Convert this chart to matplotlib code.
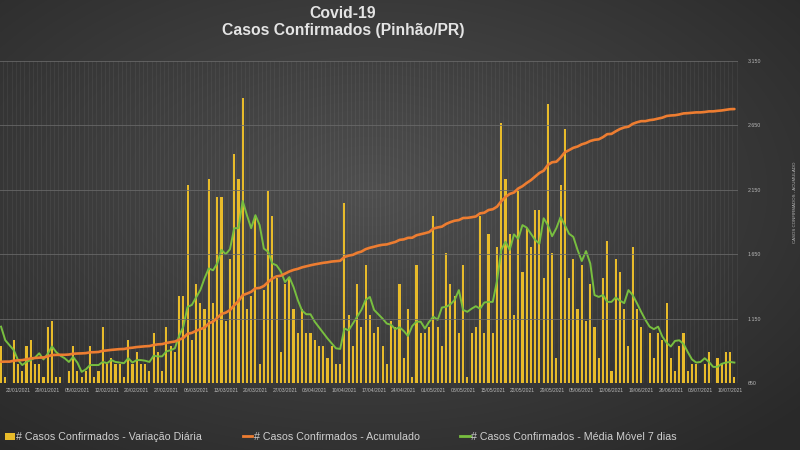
import numpy as np
import matplotlib
matplotlib.use("Agg")
import matplotlib.pyplot as plt
from matplotlib.patches import Patch
from matplotlib.lines import Line2D

# ---------------- data ----------------
first_index = 3  # day index of the first visible bar (index 0 = 15/01/2021)

tick_labels = ["22/01/2021", "29/01/2021", "05/02/2021", "12/02/2021",
               "20/02/2021", "27/02/2021", "06/03/2021", "13/03/2021", "20/03/2021",
               "27/03/2021", "03/04/2021", "10/04/2021", "17/04/2021", "24/04/2021",
               "01/05/2021", "08/05/2021", "15/05/2021", "22/05/2021", "29/05/2021",
               "05/06/2021", "12/06/2021", "19/06/2021", "26/06/2021", "03/07/2021",
               "10/07/2021"]
first_tick_index = 7

daily = [6, 1, 0, 7, 3, 2, 6, 7, 3, 3,
         1, 9, 10, 1, 1, 0, 2, 6, 2, 1,
         2, 6, 1, 2, 9, 3, 4, 3, 3, 1,
         7, 3, 5, 3, 3, 2, 8, 5, 2, 9,
         6, 5, 14, 14, 32, 7, 16, 13, 12, 33,
         13, 30, 30, 10, 20, 37, 33, 46, 12, 14,
         27, 3, 15, 31, 27, 17, 5, 16, 17, 12,
         8, 12, 8, 8, 7, 6, 6, 4, 6, 3,
         3, 29, 11, 6, 16, 9, 19, 11, 8, 9,
         6, 3, 10, 9, 16, 4, 12, 1, 19, 8,
         8, 9, 27, 9, 6, 21, 16, 14, 8, 19,
         1, 8, 9, 27, 8, 24, 8, 22, 42, 33,
         24, 11, 31, 18, 25, 22, 28, 28, 17, 45,
         21, 4, 32, 41, 17, 20, 12, 19, 10, 16,
         9, 4, 17, 23, 2, 20, 18, 12, 6, 22,
         12, 9, 0, 8, 4, 8, 7, 13, 4, 2,
         6, 8, 2, 3, 3, 0, 3, 5, 0, 4,
         3, 5, 5, 1]

moving_avg = [9.1, 6.9, 6.1, 5.3, 3.7, 2.9, 3.4, 3.7, 4.1, 4.8,
              3.8, 4.7, 5.9, 5.0, 4.4, 4.0, 3.4, 4.2, 3.3, 1.8,
              2.2, 2.9, 2.9, 2.9, 3.4, 3.2, 3.7, 3.4, 3.3, 3.2,
              4.0, 3.3, 3.7, 3.7, 3.6, 3.4, 4.4, 4.3, 4.3, 5.1,
              5.3, 5.6, 7.6, 9.1, 12.3, 12.6, 13.8, 15.0, 16.9, 18.5,
              18.2, 19.3, 21.5, 20.8, 21.6, 25.0, 25.0, 29.4, 27.1, 25.0,
              27.1, 25.5, 21.7, 21.2, 19.3, 19.0, 18.0, 16.3, 17.1, 15.5,
              13.4, 11.7, 11.1, 11.1, 9.9, 9.0, 8.1, 7.2, 6.4, 5.6,
              5.5, 8.8, 8.5, 9.6, 10.7, 11.8, 13.4, 13.9, 11.8, 11.1,
              10.4, 9.6, 9.4, 8.7, 9.0, 8.4, 7.6, 9.2, 9.9, 9.9,
              8.8, 9.9, 10.7, 10.2, 12.2, 12.3, 12.7, 13.4, 15.0, 11.8,
              11.5, 12.0, 12.4, 12.0, 13.0, 13.1, 13.1, 16.5, 21.5, 22.8,
              21.5, 24.0, 23.3, 25.5, 25.1, 24.1, 23.1, 22.5, 26.6, 25.5,
              23.7, 25.0, 26.8, 25.5, 24.1, 23.6, 21.5, 19.7, 21.3, 19.3,
              14.2, 13.9, 14.2, 13.1, 13.1, 13.8, 13.3, 12.9, 15.0, 14.2,
              12.9, 11.5, 10.2, 9.1, 8.7, 9.1, 7.5, 6.5, 5.9, 6.8,
              6.9, 6.3, 5.0, 3.8, 3.3, 3.4, 4.0, 3.4, 2.6, 2.6,
              3.1, 3.3, 3.4, 3.3]

cumulative = [815, 816, 816, 823, 826, 828, 834, 841, 844, 847,
              848, 857, 867, 868, 869, 869, 871, 877, 879, 880,
              882, 888, 889, 891, 900, 903, 907, 910, 913, 914,
              921, 924, 929, 932, 935, 937, 945, 950, 952, 961,
              967, 972, 986, 1000, 1032, 1039, 1055, 1068, 1080, 1113,
              1126, 1156, 1186, 1196, 1216, 1253, 1286, 1332, 1344, 1358,
              1385, 1388, 1403, 1434, 1461, 1478, 1483, 1499, 1516, 1528,
              1536, 1548, 1556, 1564, 1571, 1577, 1583, 1587, 1593, 1596,
              1599, 1628, 1639, 1645, 1661, 1670, 1689, 1700, 1708, 1717,
              1723, 1726, 1736, 1745, 1761, 1765, 1777, 1778, 1797, 1805,
              1813, 1822, 1849, 1858, 1864, 1885, 1899, 1910, 1915, 1931,
              1932, 1937, 1943, 1967, 1972, 1993, 1999, 2019, 2061, 2094,
              2118, 2129, 2160, 2178, 2203, 2225, 2253, 2281, 2298, 2343,
              2364, 2368, 2400, 2441, 2458, 2476, 2486, 2503, 2513, 2529,
              2538, 2542, 2559, 2582, 2584, 2604, 2622, 2634, 2640, 2662,
              2674, 2683, 2683, 2691, 2695, 2703, 2710, 2723, 2727, 2729,
              2735, 2743, 2745, 2748, 2751, 2751, 2754, 2759, 2759, 2763,
              2766, 2771, 2776, 2777]

right_ticks = [650, 1150, 1650, 2150, 2650, 3150]

title_1 = "Covid-19"
title_2 = "Casos Confirmados (Pinhão/PR)"
right_label = "CASOS CONFIRMADOS - ACUMULADO"
legend_labels = ["# Casos Confirmados - Variação Diária",
                 "# Casos Confirmados - Acumulado",
                 "# Casos Confirmados - Média Móvel 7 dias"]

# ---------------- style ----------------
plt.rcParams['font.family'] = ['Liberation Sans', 'DejaVu Sans']
BAR = '#e8bb2a'
ORANGE = '#ed7d31'
GREEN = '#78bf3f'
TXT = '#b8b8b8'

W, H = 800, 450
fig = plt.figure(figsize=(8, 4.5), dpi=100)

# radial background gradient
bg = fig.add_axes([0, 0, 1, 1], zorder=-10)
yy, xx = np.mgrid[0:H, 0:W]
r = np.sqrt(((xx - 370) / 580.0) ** 2 + ((yy - 190) / 340.0) ** 2)
t = np.clip(r, 0, 1)[..., None]
c0 = np.array([0x4f, 0x4f, 0x4f]) / 255.0
c1 = np.array([0x29, 0x29, 0x29]) / 255.0
bg.imshow(c0 * (1 - t) + c1 * t, aspect='auto', extent=[0, 1, 0, 1], origin='upper')
bg.set_axis_off()

left, right = 0.0, 738 / W
bottom, top = 1 - 383 / H, 1 - 61 / H
ax = fig.add_axes([left, bottom, right - left, top - bottom])
ax.set_facecolor('none')
ax2 = ax.twinx()

x = np.arange(first_index, first_index + len(daily))
ax.set_xlim(2.75, 176.85)
ax.set_ylim(0, 52)
ax2.set_ylim(right_ticks[0], right_ticks[-1])

# vertical category grid
for xv in np.arange(first_index - 1, first_index + len(daily) + 1) + 0.5:
    ax.axvline(xv, color='white', alpha=0.06, lw=0.6, zorder=0)
# horizontal grid (right axis ticks)
for yv in right_ticks:
    ax2.axhline(yv, color='#6a6a6a', lw=0.7, zorder=0, alpha=0.8)

ax.bar(x, daily, width=0.5, color=BAR, zorder=2, linewidth=0)
ax.plot(x, moving_avg, color=GREEN, lw=1.4, zorder=3)
ax2.plot(x, cumulative, color=ORANGE, lw=1.9, zorder=3, solid_capstyle='round')

# axes cosmetics
for a in (ax, ax2):
    for s in a.spines.values():
        s.set_visible(False)
ax.set_yticks([])
ax.tick_params(axis='x', length=0, pad=3.5, labelsize=3.6, labelcolor=TXT)
tick_pos = first_tick_index + 7 * np.arange(len(tick_labels))
ax.set_xticks(tick_pos)
ax.set_xticklabels(tick_labels)
ax2.set_yticks(right_ticks)
ax2.set_yticklabels([f"{v:,}".replace(",", ".") for v in right_ticks])
ax2.tick_params(axis='y', length=0, pad=7, labelsize=3.8, labelcolor=TXT)

fig.text(795 / W, 1 - 202 / H, right_label, rotation=90, ha='center', va='center',
         fontsize=3.2, color=TXT)

# titles
fig.text(343 / W, 1 - 13.5 / H, title_1, ha='center', va='center', fontsize=11.3,
         fontweight='bold', color='#e4e4e4')
fig.text(343 / W, 1 - 30.5 / H, title_2, ha='center', va='center', fontsize=11.3,
         fontweight='bold', color='#e4e4e4')

# legend
handles = [Patch(facecolor=BAR, edgecolor='none'),
           Line2D([0], [0], color=ORANGE, lw=2),
           Line2D([0], [0], color=GREEN, lw=2)]
leg = fig.legend(handles, legend_labels, loc='center left', bbox_to_anchor=(0.004, 1 - 437 / H),
                 ncol=3, frameon=False, fontsize=7.7, labelcolor='#cfcfcf',
                 handlelength=0.9, handleheight=0.6, handletextpad=0.12, columnspacing=3.8,
                 borderaxespad=0, borderpad=0.2)

fig.savefig('out.png', dpi=100)
